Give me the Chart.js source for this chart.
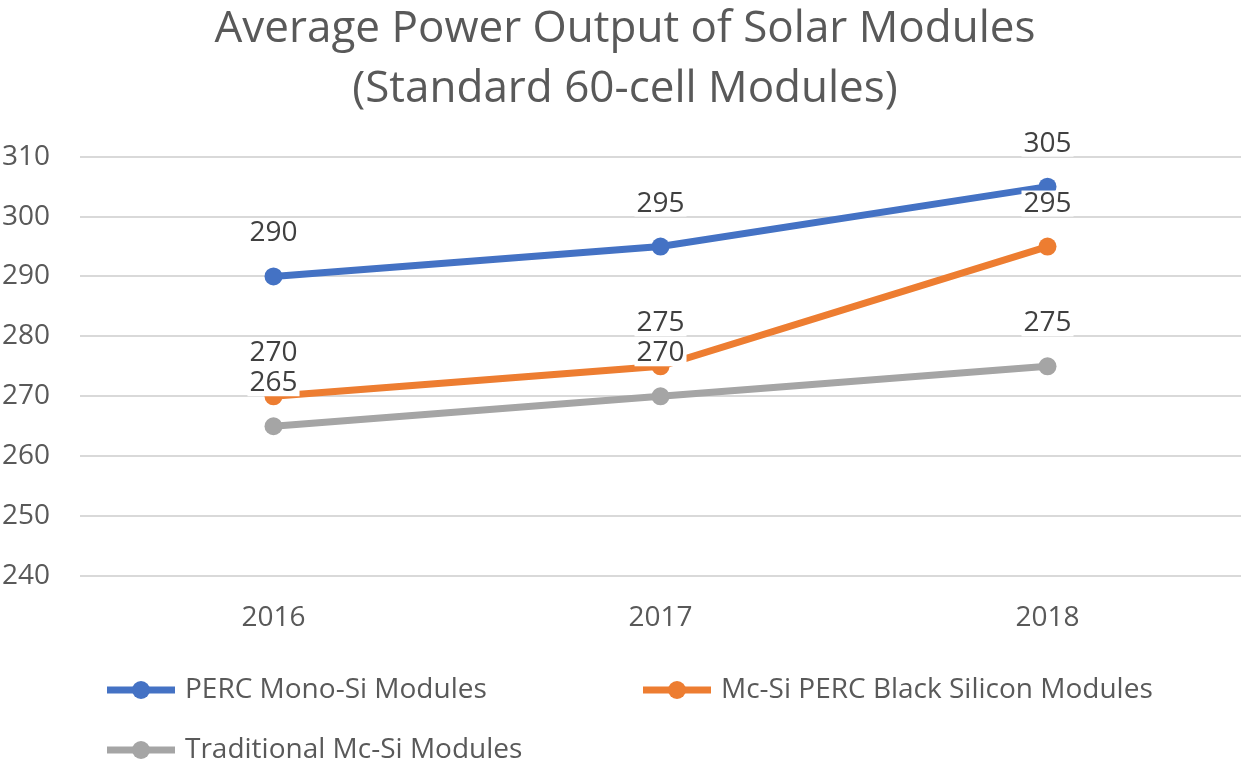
<!DOCTYPE html>
<html><head><meta charset="utf-8">
<script src="https://cdn.jsdelivr.net/npm/chart.js@4/dist/chart.umd.min.js"></script>
<style>html,body{margin:0;padding:0;background:#fff}#wrap{width:1250px;height:764px}</style>
</head><body><div id="wrap"><canvas id="c" width="1250" height="764"></canvas></div>
<script>
const categories = ['2016', '2017', '2018'];
const percMono = [290, 295, 305];
const mcSiPercBlack = [270, 275, 295];
const traditionalMcSi = [265, 270, 275];
const seriesNames = ['PERC Mono-Si Modules', 'Mc-Si PERC Black Silicon Modules', 'Traditional Mc-Si Modules'];
const yTicks = [240, 250, 260, 270, 280, 290, 300, 310];
const colors = ['#4472C4', '#ED7D31', '#A5A5A5'];
const FONT = '"Open Sans", Lato, sans-serif';

const labelPlugin = {
  id: 'valueLabels',
  afterDatasetsDraw(chart) {
    const ctx = chart.ctx;
    ctx.save();
    ctx.font = '28px ' + FONT;
    ctx.textAlign = 'center';
    ctx.textBaseline = 'middle';
    chart.data.datasets.forEach((ds, i) => {
      const meta = chart.getDatasetMeta(i);
      meta.data.forEach((pt, j) => {
        const txt = String(ds.data[j]);
        const y = pt.y - 43;
        const w = ctx.measureText(txt).width;
        ctx.fillStyle = '#ffffff';
        ctx.fillRect(pt.x - w / 2 - 2, y - 13, w + 4, 26);
        ctx.fillStyle = '#404040';
        ctx.fillText(txt, pt.x, y);
      });
    });
    ctx.restore();
  }
};

const legendPlugin = {
  id: 'customLegend',
  afterDraw(chart) {
    const ctx = chart.ctx;
    const items = [
      {x: 107, y: 690}, {x: 643, y: 690}, {x: 107, y: 750}
    ];
    ctx.save();
    ctx.font = '28px ' + FONT;
    ctx.textBaseline = 'middle';
    ctx.textAlign = 'left';
    chart.data.datasets.forEach((ds, i) => {
      const it = items[i];
      ctx.strokeStyle = ds.borderColor;
      ctx.lineWidth = 7;
      ctx.beginPath();
      ctx.moveTo(it.x, it.y);
      ctx.lineTo(it.x + 68, it.y);
      ctx.stroke();
      ctx.fillStyle = ds.borderColor;
      ctx.beginPath();
      ctx.arc(it.x + 34, it.y, 9, 0, Math.PI * 2);
      ctx.fill();
      ctx.fillStyle = '#595959';
      ctx.fillText(ds.label, it.x + 78, it.y);
    });
    ctx.restore();
  }
};

const mk = (label, data, color) => ({
  label, data, borderColor: color, backgroundColor: color,
  borderWidth: 7, pointRadius: 9, pointHoverRadius: 9,
  pointBackgroundColor: color, pointBorderColor: color, pointBorderWidth: 0,
  tension: 0, fill: false
});

new Chart(document.getElementById('c'), {
  type: 'line',
  data: {
    labels: categories,
    datasets: [
      mk(seriesNames[0], percMono, colors[0]),
      mk(seriesNames[1], mcSiPercBlack, colors[1]),
      mk(seriesNames[2], traditionalMcSi, colors[2])
    ]
  },
  options: {
    responsive: false,
    animation: false,
    devicePixelRatio: 1,
    layout: { padding: { left: 0, right: 0, top: 0, bottom: 0 } },
    plugins: {
      legend: { display: false },
      tooltip: { enabled: false },
      title: {
        display: true,
        text: ['Average Power Output of Solar Modules', '(Standard 60-cell Modules)'],
        color: '#595959',
        font: { family: FONT, size: 44, weight: 'normal', lineHeight: 1.36 },
        padding: { top: 0, bottom: 37 }
      }
    },
    scales: {
      x: {
        offset: true,
        grid: { display: false, drawTicks: false },
        border: { display: false },
        ticks: { color: '#595959', font: { family: FONT, size: 28 }, padding: 25 },
        afterFit(s) { s.height = 188; }
      },
      y: {
        min: 240, max: 310,
        afterBuildTicks(s) { s.ticks = yTicks.map(v => ({ value: v })); },
        grid: { color: '#D9D9D9', lineWidth: 2, drawTicks: false },
        border: { display: false },
        ticks: { color: '#595959', font: { family: FONT, size: 28 }, padding: 30 },
        afterFit(s) { s.width = 80; }
      }
    }
  },
  plugins: [labelPlugin, legendPlugin]
});
</script>
</body></html>
